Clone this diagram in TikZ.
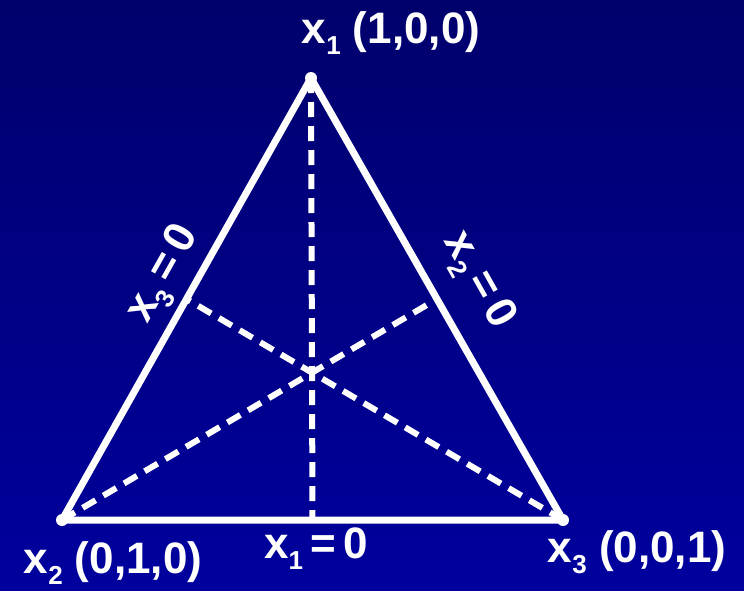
\documentclass[tikz,border=0pt]{standalone}
\usepackage{fontspec}
\setmainfont{Liberation Sans}
\usepackage{xcolor}
\usetikzlibrary{calc}

\definecolor{bgtop}{RGB}{0,0,108}
\definecolor{bgbot}{RGB}{0,0,158}
\newcommand{\xsub}[1]{x\raisebox{-0.25em}{\fontsize{26}{26}\selectfont #1}}

\begin{document}
\begin{tikzpicture}[
    x=1pt, y=-1pt,
    edge/.style={white, line width=7pt, line join=round, line cap=round},
    median/.style={white, line width=6pt, dash pattern=on 15pt off 9pt},
    lbl/.style={white, inner sep=0pt, font=\fontsize{44}{44}\selectfont\bfseries},
    corner/.style={fill=white, circle, inner sep=0pt, minimum size=12pt}
]
\shade[top color=bgtop, bottom color=bgbot] (0,0) rectangle (744,590);
\useasboundingbox (0,0) rectangle (744,590);

\coordinate (a) at (311,78);
\coordinate (b) at (62,520);
\coordinate (c) at (563,520);
\coordinate (mbc) at ($(b)!0.5!(c)$);
\coordinate (mac) at ($(a)!0.5!(c)$);
\coordinate (mab) at ($(a)!0.5!(b)$);

% medians
\draw[median] (a) -- (mbc);
\draw[median] (b) -- (mac);
\draw[median] (c) -- (mab);

% sides
\draw[edge] (a) -- (b) -- (c) -- cycle;
\node[corner] at (a) {};
\node[corner] at (b) {};
\node[corner] at (c) {};

\node[lbl] (la) at (391,33) {\xsub{1} (1,0,0)};
\node[lbl] (lb) at (113,563) {\xsub{2} (0,1,0)};
\node[lbl] (lc) at (637,552) {\xsub{3} (0,0,1)};
\node[lbl] (lbc) at (316,549) {\xsub{1}\,=\,0};
\node[lbl, rotate=60.6] (lab) at (165,275) {\xsub{3}\,=\,0};
\node[lbl, rotate=-60.6] (lac) at (478,281) {\xsub{2}\,=\,0};
\end{tikzpicture}
\end{document}
